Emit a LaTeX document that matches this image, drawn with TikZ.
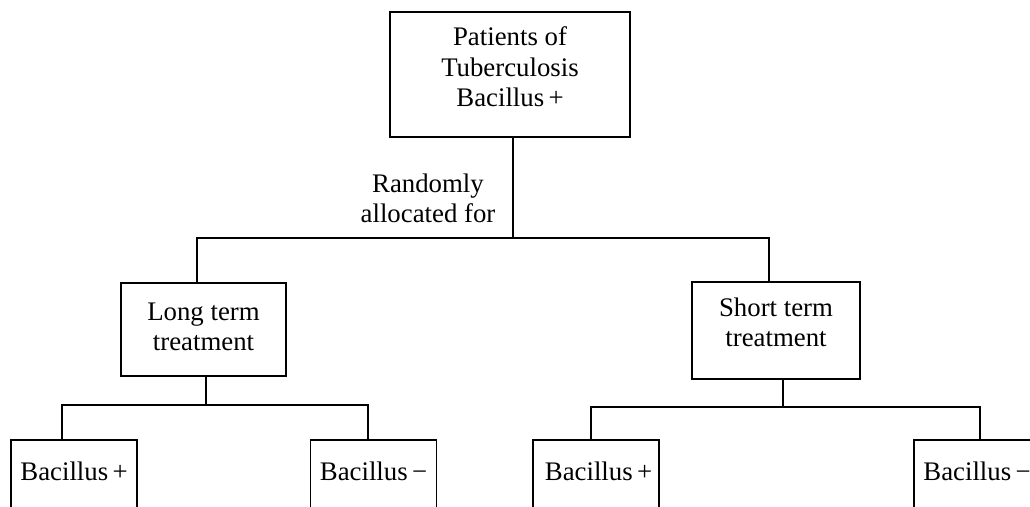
\documentclass[tikz,border=0pt]{standalone}
\usepackage{fontspec}
\setmainfont{Liberation Serif}
\newcommand{\sgn}{\hspace{0.16em}}
\begin{document}
\begin{tikzpicture}[x=1pt,y=-1pt,
  line width=1.8pt,
  txt/.style={font=\fontsize{26.8}{30.5}\selectfont, align=center, inner sep=0pt},
  box/.style={txt, draw},
  leaf/.style={draw, font=\fontsize{26.8}{30.5}\selectfont, inner sep=0pt,
    minimum width=126pt, text height=41pt, text depth=60pt, anchor=north},
  link/.style={line cap=rect}]
\useasboundingbox (0,0) rectangle (1030,506);
\clip (0,0) rectangle (1030,506);

% group boxes
\node[box, minimum width=240pt, minimum height=125pt] (top) at (510,74.5)
  {Patients of\\Tuberculosis\\Bacillus\sgn+\rule[-15pt]{0pt}{0pt}};
\node[txt] (rand) at (428,198.5) {Randomly\\allocated for};
\node[box, minimum width=165pt, minimum height=93pt] (long) at (203.5,329.5)
  {Long term\\treatment\rule[-6pt]{0pt}{0pt}};
\node[box, minimum width=168pt, minimum height=97pt] (short) at (776,330.5)
  {Short term\\treatment\rule[-17pt]{0pt}{0pt}};

% outcome boxes (run past the lower edge)
\node[leaf] (lp) at (74,439) {Bacillus\sgn+};
\node[leaf] (lm) at (373.5,439) {Bacillus\sgn−};
\node[leaf] (sp) at (596,439) {\hspace*{5pt}Bacillus\sgn+};
\node[leaf] (sm) at (977,439) {Bacillus\sgn−};

% branch points
\coordinate (jT) at (513,238);
\coordinate (jA) at (197,238);
\coordinate (jB) at (769,238);
\coordinate (kL) at (206,405);
\coordinate (kA) at (62,405);
\coordinate (kB) at (368,405);
\coordinate (mS) at (783,407);
\coordinate (mA) at (591,407);
\coordinate (mB) at (980,407);

% tree connectors
\draw (jT |- top.south) -- (jT);
\draw[link] (jA) -- (jB);
\draw (jA) -- (jA |- long.north);
\draw (jB) -- (jB |- short.north);

\draw (kL |- long.south) -- (kL);
\draw[link] (kA) -- (kB);
\draw (kA) -- (kA |- lp.north);
\draw (kB) -- (kB |- lm.north);

\draw (mS |- short.south) -- (mS);
\draw[link] (mA) -- (mB);
\draw (mA) -- (mA |- sp.north);
\draw (mB) -- (mB |- sm.north);
\end{tikzpicture}
\end{document}
